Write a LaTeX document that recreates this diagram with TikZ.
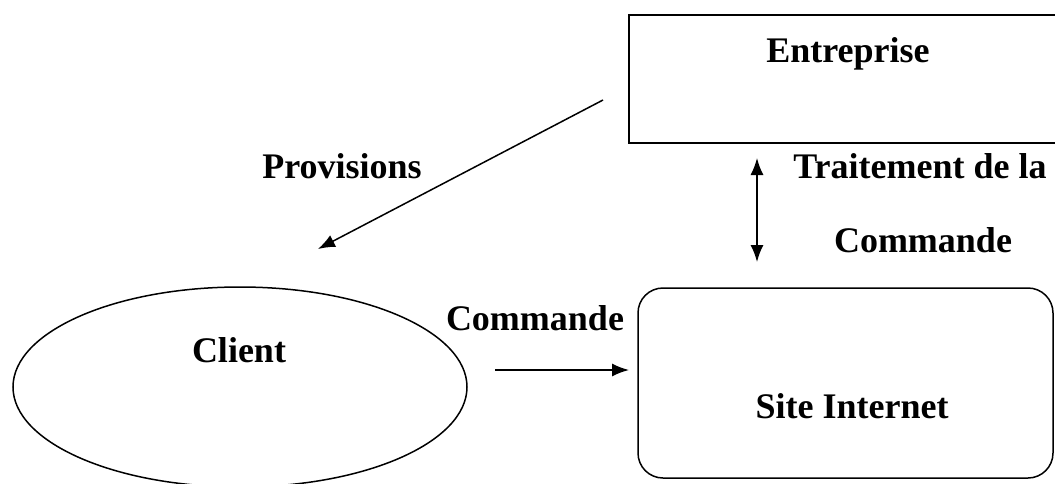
\documentclass[tikz,border=0pt]{standalone}
\usepackage{fontspec}
\setmainfont{Liberation Serif}
\usetikzlibrary{arrows.meta,shapes.geometric}
\tikzset{
  shapeline/.style={draw=black, line width=1.5pt},
  lbl/.style={font=\fontsize{36}{40}\selectfont\bfseries, anchor=base, inner sep=0pt},
  tip/.style={Latex[length=17pt,width=13pt]},
  arr/.style={line width=1.5pt, -{Latex[length=17pt,width=13pt]}},
  darr/.style={line width=1.5pt, {Latex[length=17pt,width=13pt]}-{Latex[length=17pt,width=13pt]}},
}
\begin{document}
\begin{tikzpicture}[x=1pt,y=-1pt]
\useasboundingbox (0,0) rectangle (1055,483);
\clip (0,0) rectangle (1055,483);
% shapes
\node[shapeline, rectangle, minimum width=441pt, minimum height=128pt, inner sep=0pt] (ent) at (849.5,79) {};
\node[shapeline, ellipse, minimum width=454pt, minimum height=200pt, inner sep=0pt] (cli) at (240,387) {};
\node[shapeline, rectangle, rounded corners=25pt, minimum width=415pt, minimum height=190pt, inner sep=0pt] (site) at (845.5,383) {};
% texts
\node[lbl] (tent) at (848,62) {Entreprise};
\node[lbl] (tcli) at (239,362) {Client};
\node[lbl] (tsite) at (852,418) {Site Internet};
\node[lbl] (tprov) at (342,178) {Provisions};
\node[lbl] (ttrait) at (920,178) {Traitement de la};
\node[lbl] (tcom2) at (923,252) {Commande};
\node[lbl] (tcom) at (535,330) {Commande};
% connector ends
\coordinate (p1) at (603,100);
\coordinate (p2) at (318,249);
\coordinate (d1) at (757,158);
\coordinate (d2) at (757,262);
\coordinate (c1) at (495,370);
\coordinate (c2) at (629,370);
\draw[arr] (p1) -- (p2);
\draw[darr] (d1) -- (d2);
\draw[arr] (c1) -- (c2);
\end{tikzpicture}
\end{document}
